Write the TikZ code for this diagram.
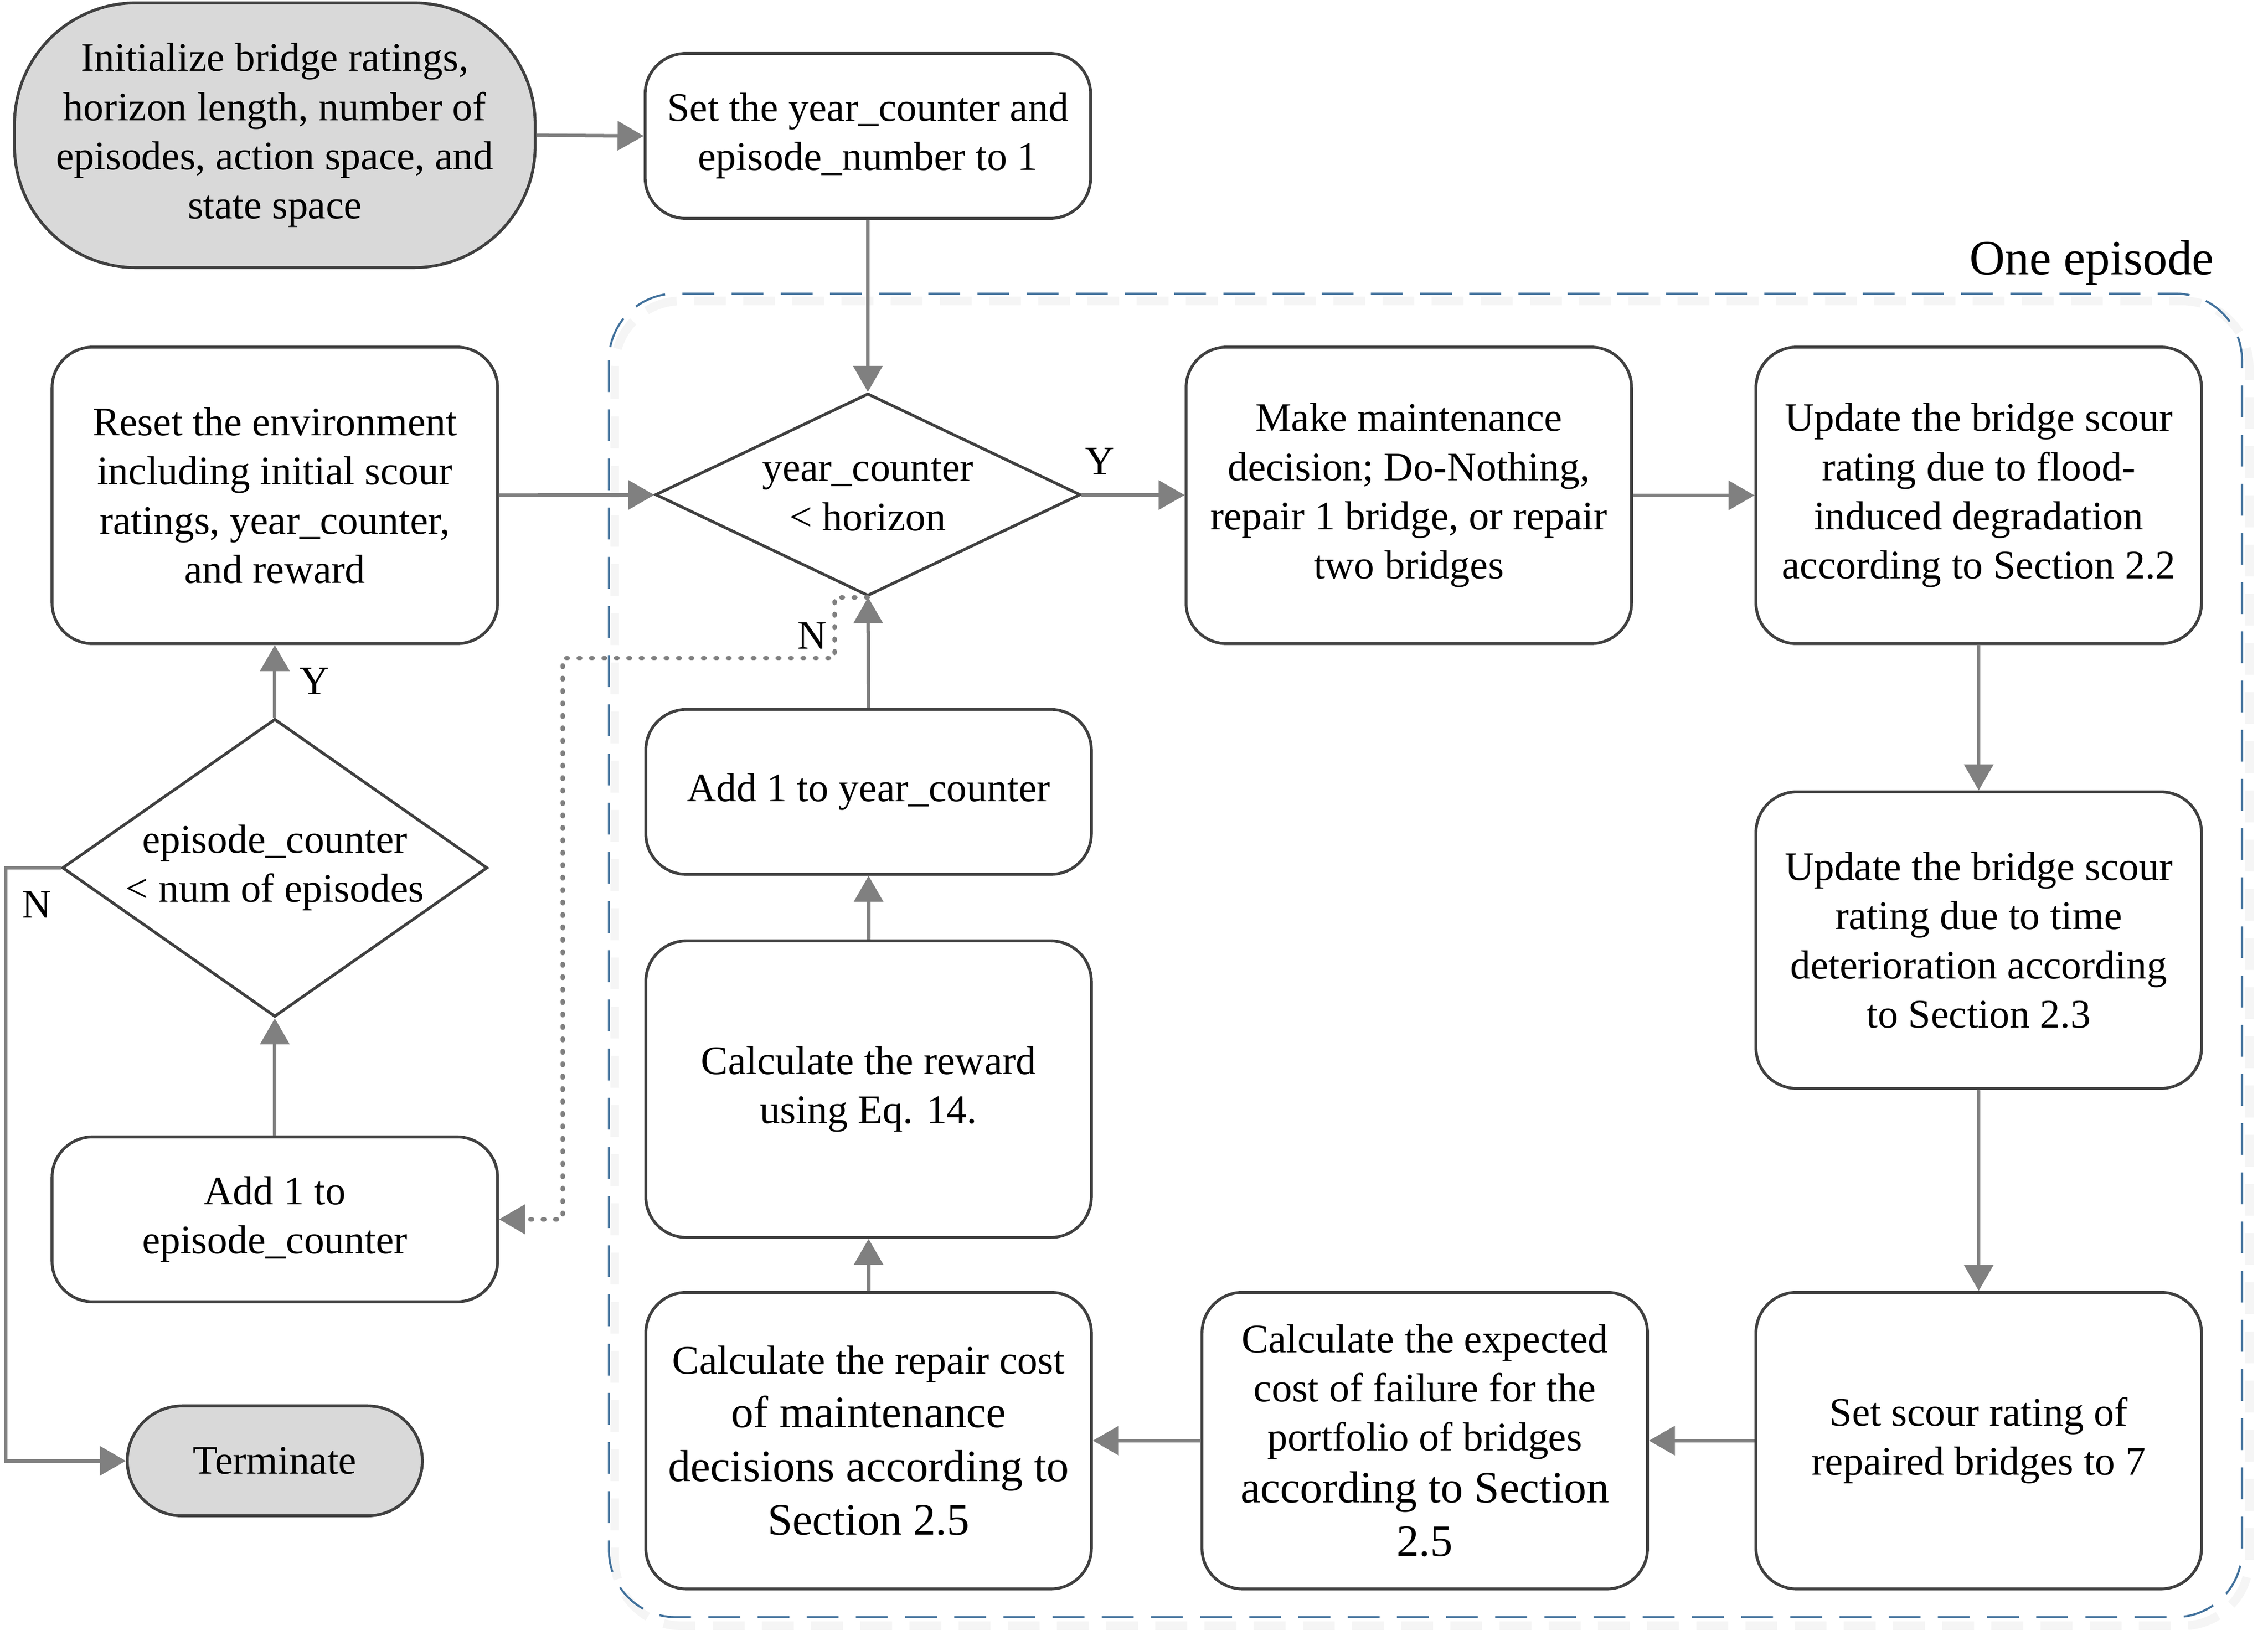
\documentclass[tikz,border=0pt]{standalone}
\usepackage{fontspec}
\setmainfont{Liberation Serif}
\usetikzlibrary{arrows.meta,shapes.geometric}

\definecolor{linegray}{RGB}{128,128,128}
\definecolor{boxgray}{RGB}{64,64,64}
\definecolor{fillgray}{RGB}{217,217,217}
\definecolor{episodeblue}{RGB}{65,113,156}
\newcommand{\largerline}{\fontsize{15.5}{18.5}\selectfont}

\begin{document}
\begin{tikzpicture}[x=0.5pt,y=0.5pt,yscale=-1,xscale=1,
  font=\fontsize{14}{17}\selectfont,
  process/.style={draw=boxgray, line width=1pt, rounded corners=14pt, align=center, minimum width=154pt, minimum height=102.5pt, inner sep=2pt},
  shortbox/.style={process, minimum height=57pt},
  terminal/.style={draw=boxgray, line width=1pt, fill=fillgray, align=center, inner sep=2pt},
  decision/.style={draw=boxgray, line width=1pt, diamond, align=center, inner sep=0pt},
  flow/.style={draw=linegray, line width=1.2pt, -{Triangle[length=9pt,width=10pt]}},
  dotflow/.style={flow, line width=1.5pt, dash pattern=on 0.6pt off 3.7pt, line cap=round},
  yn/.style={inner sep=0pt}]
\useasboundingbox (0,0) rectangle (1568,1138);

%Shape: Rounded Rect [id:episode shadow]
\draw [gray!8, line width=3pt, dash pattern=on 11pt off 6pt, rounded corners=23pt] (425,208) rectangle (1555,1124);
%Shape: Rounded Rect [id:episode frame]
\draw [draw=episodeblue, line width=0.7pt, dash pattern=on 11pt off 6pt, rounded corners=23pt] (421,203) rectangle (1550,1118);
% Text Node
\node [anchor=base east, font=\fontsize{17}{20}\selectfont, inner sep=0pt] (eplabel) at (1531,190) {One episode};

% Start and end
\node [terminal, rounded corners=42pt, minimum width=180pt, minimum height=91.5pt] (init) at (190,93.5) {Initialize bridge ratings,\\horizon length, number of\\episodes, action space, and\\state space};
\node [terminal, rounded corners=19pt, minimum width=102pt, minimum height=38pt] (term) at (190,1010) {Terminate};

% Outer loop
\node [shortbox] (setyr) at (600,94) {Set the year\_counter and\\episode\_number to 1};
\node [process] (reset) at (190,342.5) {Reset the environment\\including initial scour\\ratings, year\_counter,\\and reward};
\node [decision, aspect=1.43, minimum width=147pt, minimum height=103pt] (ec) at (190,600) {episode\_counter\\< num of episodes};
\node [shortbox] (addep) at (190,843) {Add 1 to\\episode\_counter};

% One episode
\node [decision, aspect=2.1, minimum width=147pt, minimum height=70pt] (yc) at (600,342) {year\_counter\\< horizon};
\node [process] (decide) at (974,342.5) {Make maintenance\\decision; Do-Nothing,\\repair 1 bridge, or repair\\two bridges};
\node [process] (flood) at (1368,342.5) {Update the bridge scour\\rating due to flood-\\induced degradation\\according to Section 2.2};
\node [process] (timedet) at (1368,650) {Update the bridge scour\\rating due to time\\deterioration according\\to Section 2.3};
\node [process] (setscour) at (1368,996) {Set scour rating of\\repaired bridges to 7};
\node [process] (failcost) at (985,996) {Calculate the expected\\cost of failure for the\\portfolio of bridges\\[1pt]\largerline according to Section\\[1.5pt]\largerline 2.5};
\node [process] (repcost) at (600.5,996) {Calculate the repair cost\\[1.5pt]\largerline of maintenance\\[1.5pt]\largerline decisions according to\\[1.5pt]\largerline Section 2.5};
\node [process] (reward) at (600.5,753) {Calculate the reward\\using Eq. 14.};
\node [shortbox] (addyr) at (600.5,547.5) {Add 1 to year\_counter};

\coordinate (nbend) at (389,455);

%Straight Lines
\draw [flow] (init.east) -- (setyr.west);
\draw [flow] (setyr) -- (yc);
\draw [flow] (reset) -- (yc);
\draw [flow] (yc) -- node [yn, pos=0.18, anchor=south, yshift=6.5pt] {Y} (decide);
\draw [flow] (decide) -- (flood);
\draw [flow] (flood) -- (timedet);
\draw [flow] (timedet) -- (setscour);
\draw [flow] (setscour) -- (failcost);
\draw [flow] (failcost) -- (repcost);
\draw [flow] (repcost) -- (reward);
\draw [flow] (reward) -- (addyr);
\draw [flow] (addyr) -- (yc);
\draw [flow] (addep) -- (ec);
\draw [flow] (ec) -- node [yn, midway, anchor=west, xshift=8pt] {Y} (reset);
\draw [flow] (ec.west) -- ++(-38,0) node [yn, anchor=north west, xshift=5pt, yshift=-7.5pt] {N} |- (term.west);
\draw [dotflow] (yc.south) -- ++(-23,0) |- node [yn, pos=0.5, anchor=south east, xshift=-2pt, yshift=2.5pt] {N} (nbend) |- (addep.east);

\end{tikzpicture}
\end{document}
